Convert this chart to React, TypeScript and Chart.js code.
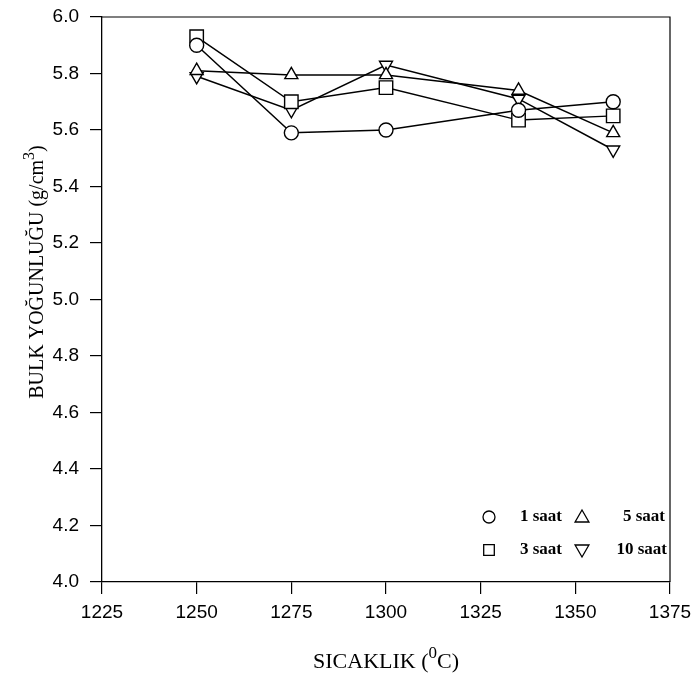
import React, { useEffect, useRef } from "react";
import { Chart, registerables } from "chart.js";

Chart.register(...registerables);

const temperatures = [1250, 1275, 1300, 1335, 1360];
const saat1 = [5.9, 5.59, 5.6, 5.67, 5.7];
const saat3 = [5.93, 5.7, 5.75, 5.635, 5.65];
const saat5 = [5.81, 5.795, 5.795, 5.74, 5.59];
const saat10 = [5.79, 5.67, 5.83, 5.71, 5.53];
const seriesLabels = ["1 saat", "3 saat", "5 saat", "10 saat"];
const xTicks = [1225, 1250, 1275, 1300, 1325, 1350, 1375];
const yTicks = [4.0, 4.2, 4.4, 4.6, 4.8, 5.0, 5.2, 5.4, 5.6, 5.8, 6.0];
const xTitleParts = ["SICAKLIK (", "0", "C)"];
const yTitleParts = ["BULK YOĞUNLUĞU (g/cm", "3", ")"];

const SERIF = '"Liberation Serif", "Times New Roman", serif';
const SANS = '"Liberation Sans", Arial, sans-serif';

function drawRich(ctx: CanvasRenderingContext2D, parts: string[], size: number, supSize: number, rise: number) {
  const fonts = [`${size}px ${SERIF}`, `${supSize}px ${SERIF}`, `${size}px ${SERIF}`];
  let total = 0;
  const widths = parts.map((p, i) => {
    ctx.font = fonts[i];
    const w = ctx.measureText(p).width;
    total += w;
    return w;
  });
  let x = -total / 2;
  parts.forEach((p, i) => {
    ctx.font = fonts[i];
    ctx.fillText(p, x, i === 1 ? -rise : 0);
    x += widths[i];
  });
}

function drawMarker(ctx: CanvasRenderingContext2D, style: string, x: number, y: number, r: number, rot = 0) {
  ctx.beginPath();
  if (style === "circle") {
    ctx.arc(x, y, r, 0, Math.PI * 2);
  } else if (style === "rect") {
    const s = r * Math.SQRT1_2;
    ctx.rect(x - s, y - s, 2 * s, 2 * s);
  } else {
    const dir = rot ? -1 : 1;
    ctx.moveTo(x, y - dir * r);
    ctx.lineTo(x + r * 0.866, y + dir * r * 0.5);
    ctx.lineTo(x - r * 0.866, y + dir * r * 0.5);
    ctx.closePath();
  }
  ctx.fillStyle = "#fff";
  ctx.fill();
  ctx.stroke();
}

const decorPlugin = {
  id: "decor",
  afterDraw(chart: any) {
    const ctx = chart.ctx as CanvasRenderingContext2D;
    const a = chart.chartArea;
    ctx.save();
    ctx.strokeStyle = "#000";
    ctx.lineWidth = 1.2;
    ctx.beginPath();
    ctx.moveTo(a.left, a.top);
    ctx.lineTo(a.right, a.top);
    ctx.lineTo(a.right, a.bottom);
    ctx.stroke();

    ctx.fillStyle = "#000";
    ctx.textBaseline = "alphabetic";
    ctx.textAlign = "left";
    // x title
    ctx.save();
    ctx.translate((a.left + a.right) / 2, 668);
    drawRich(ctx, xTitleParts, 22, 17, 10);
    ctx.restore();
    // y title
    ctx.save();
    ctx.translate(43, 272);
    ctx.rotate(-Math.PI / 2);
    drawRich(ctx, yTitleParts, 20, 16, 9);
    ctx.restore();

    // legend
    ctx.lineWidth = 1.3;
    ctx.strokeStyle = "#000";
    const rows = [517, 550];
    drawMarker(ctx, "circle", 489, rows[0], 6);
    drawMarker(ctx, "rect", 489, rows[1], 7.5);
    drawMarker(ctx, "triangle", 582, rows[0] + 1, 8);
    drawMarker(ctx, "triangle", 582, rows[1] - 1, 8, 180);
    ctx.fillStyle = "#000";
    ctx.font = `bold 17px ${SERIF}`;
    ctx.textBaseline = "middle";
    ctx.textAlign = "right";
    ctx.fillText(seriesLabels[0], 562, rows[0]);
    ctx.fillText(seriesLabels[1], 562, rows[1]);
    ctx.fillText(seriesLabels[2], 665, rows[0]);
    ctx.fillText(seriesLabels[3], 667, rows[1]);
    ctx.restore();
  },
};

function makeData(vals: number[]) {
  return temperatures.map((t, i) => ({ x: t, y: vals[i] }));
}

export default function App() {
  const ref = useRef<HTMLCanvasElement | null>(null);
  useEffect(() => {
    if (!ref.current) return;
    const common = {
      borderColor: "#000",
      borderWidth: 1.5,
      pointBackgroundColor: "#fff",
      pointBorderColor: "#000",
      pointBorderWidth: 1.4,
      fill: false,
      tension: 0,
    };
    const chart = new Chart(ref.current, {
      type: "line",
      data: {
        datasets: [
          { ...common, label: seriesLabels[0], data: makeData(saat1), pointStyle: "circle", pointRadius: 7 },
          { ...common, label: seriesLabels[1], data: makeData(saat3), pointStyle: "rect", pointRadius: 9.5 },
          { ...common, label: seriesLabels[2], data: makeData(saat5), pointStyle: "triangle", pointRadius: 7.5 },
          { ...common, label: seriesLabels[3], data: makeData(saat10), pointStyle: "triangle", pointRotation: 180, pointRadius: 7.5 },
        ],
      },
      options: {
        animation: false,
        responsive: true,
        maintainAspectRatio: false,
        layout: { padding: { top: 17, right: 26, left: 0, bottom: 0 } },
        plugins: { legend: { display: false }, tooltip: { enabled: false } },
        scales: {
          x: {
            type: "linear",
            min: 1225,
            max: 1375,
            afterBuildTicks: (s: any) => {
              s.ticks = xTicks.map((v) => ({ value: v }));
            },
            afterFit: (s: any) => {
              s.height = 98;
              s.paddingLeft = 0;
              s.paddingRight = 0;
            },
            ticks: {
              color: "#000",
              font: { family: SANS, size: 19 },
              padding: 7,
              maxRotation: 0,
              callback: (v: any) => String(v),
            },
            grid: { drawOnChartArea: false, drawTicks: true, tickLength: 12, color: "#000", lineWidth: 1.2 },
            border: { display: true, color: "#000", width: 1.3 },
          },
          y: {
            type: "linear",
            min: 4,
            max: 6,
            afterBuildTicks: (s: any) => {
              s.ticks = yTicks.map((v) => ({ value: v }));
            },
            afterFit: (s: any) => {
              s.width = 102;
              s.paddingTop = 0;
              s.paddingBottom = 0;
            },
            ticks: {
              color: "#000",
              font: { family: SANS, size: 19 },
              padding: 11,
              callback: (v: any) => Number(v).toFixed(1),
            },
            grid: { drawOnChartArea: false, drawTicks: true, tickLength: 12, color: "#000", lineWidth: 1.2 },
            border: { display: true, color: "#000", width: 1.3 },
          },
        },
      },
      plugins: [decorPlugin],
    } as any);
    return () => chart.destroy();
  }, []);
  return (
    <div style={{ position: "fixed", left: 0, top: 0, width: 696, height: 680, background: "#fff" }}>
      <canvas ref={ref} />
    </div>
  );
}
